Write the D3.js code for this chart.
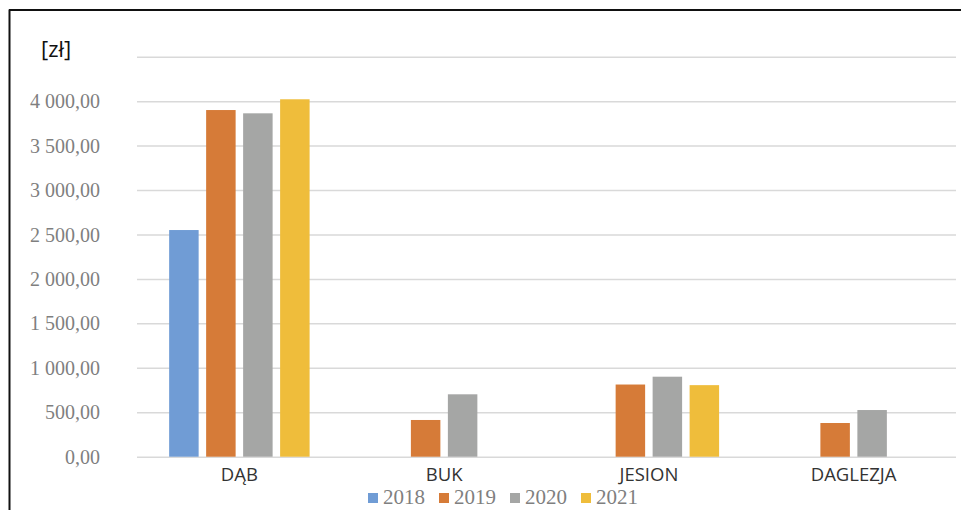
<!DOCTYPE html>
<html>
<head>
<meta charset="utf-8">
<script src="https://cdn.jsdelivr.net/npm/d3@7"></script>
<style>
  html, body { margin: 0; padding: 0; background: #fff; }
  svg { display: block; }
</style>
</head>
<body>
<svg id="chart" width="961" height="510"></svg>
<script>
const categories = ["DĄB", "BUK", "JESION", "DAGLEZJA"];
const years = ["2018", "2019", "2020", "2021"];
const v2018 = [2550, null, null, null];
const v2019 = [3900, 413, 812, 379];
const v2020 = [3863, 702, 900, 525];
const v2021 = [4021, null, 805, null];
const yTicks = [0, 500, 1000, 1500, 2000, 2500, 3000, 3500, 4000, 4500];
const yTickLabels = ["0,00", "500,00", "1 000,00", "1 500,00", "2 000,00", "2 500,00", "3 000,00", "3 500,00", "4 000,00", ""];
const colors = ["#709cd5", "#d67b38", "#a5a6a5", "#efbd3b"];

const seriesValues = [v2018, v2019, v2020, v2021];

const svg = d3.select("#chart");

// frame
svg.append("line").attr("x1", 9.5).attr("x2", 9.5).attr("y1", 9.5).attr("y2", 510)
  .attr("stroke", "#111").attr("stroke-width", 2);
svg.append("line").attr("x1", 9).attr("x2", 961).attr("y1", 10).attr("y2", 10)
  .attr("stroke", "#111").attr("stroke-width", 2);

const pLeft = 137, pRight = 956, pTop = 56.7, pBottom = 456.7;

const y = d3.scaleLinear().domain([0, 4500]).range([pBottom, pTop]);
const x0 = d3.scaleBand().domain(categories).range([pLeft, pRight]).paddingInner(0).paddingOuter(0);
const groupW = x0.bandwidth() * 0.686;
const x1 = d3.scaleBand().domain(years).range([-groupW / 2, groupW / 2]).paddingInner(0.2027).paddingOuter(0);

// gridlines
const grid = d3.axisLeft(y).tickValues(yTicks).tickSize(-(pRight - pLeft)).tickFormat("");
const gg = svg.append("g").attr("transform", `translate(${pLeft},0)`).call(grid);
gg.select(".domain").remove();
gg.selectAll(".tick line").attr("stroke", "#d9d9d9").attr("stroke-width", 1.5);

// y tick labels
const ya = d3.axisLeft(y).tickValues(yTicks).tickSize(0).tickPadding(0)
  .tickFormat((d, i) => yTickLabels[i]);
const yg = svg.append("g").attr("transform", `translate(100,0)`).call(ya);
yg.select(".domain").remove();
yg.selectAll(".tick text")
  .attr("font-family", "'Liberation Serif', 'Times New Roman', serif")
  .attr("font-size", "20px")
  .attr("fill", "#7f7f7f")
  .attr("dy", "0.33em");

// bars
const groups = svg.append("g").selectAll("g").data(categories).join("g")
  .attr("transform", d => `translate(${x0(d) + x0.bandwidth() / 2},0)`);
groups.selectAll("rect")
  .data((c, ci) => years.map((yr, si) => ({ yr, si, v: seriesValues[si][ci] })).filter(d => d.v != null))
  .join("rect")
  .attr("x", d => x1(d.yr))
  .attr("width", x1.bandwidth())
  .attr("y", d => y(d.v))
  .attr("height", d => y(0) - y(d.v))
  .attr("fill", d => colors[d.si]);

// category labels
const xa = d3.axisBottom(x0).tickSize(0).tickPadding(0);
const xg = svg.append("g").attr("transform", `translate(0,${pBottom})`).call(xa);
xg.select(".domain").remove();
xg.selectAll(".tick text")
  .attr("font-family", "'Open Sans', sans-serif")
  .attr("font-size", "18.5px")
  .attr("fill", "#333")
  .attr("y", 24)
  .attr("dy", 0);

// unit label
svg.append("text").attr("x", 41).attr("y", 57)
  .attr("font-family", "'Open Sans', sans-serif").attr("font-size", "22px")
  .attr("fill", "#111").text("[zł]");

// legend
const legendX = d3.scaleBand().domain(years).range([368, 652]);
const lg = svg.append("g").selectAll("g").data(years).join("g")
  .attr("transform", d => `translate(${legendX(d)},0)`);
lg.append("rect").attr("x", 0).attr("y", 493).attr("width", 10).attr("height", 10)
  .attr("fill", (d, i) => colors[i]);
lg.append("text").attr("x", 15).attr("y", 504)
  .attr("font-family", "'Liberation Serif', 'Times New Roman', serif")
  .attr("font-size", "21px").attr("fill", "#7f7f7f").text(d => d);
</script>
</body>
</html>
